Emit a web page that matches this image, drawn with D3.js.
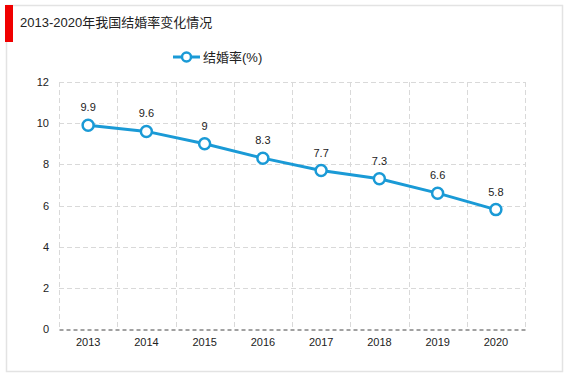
<!DOCTYPE html>
<html><head><meta charset="utf-8">
<script src="https://cdn.jsdelivr.net/npm/d3@7"></script>
<style>body{margin:0;background:#fff;}svg{display:block;font-family:"Liberation Sans",Arial,"Noto Sans CJK SC",sans-serif;}</style>
</head><body><svg id="c" width="567" height="378"></svg>
<script>
const years = ["2013","2014","2015","2016","2017","2018","2019","2020"];
const rates = [9.9, 9.6, 9, 8.3, 7.7, 7.3, 6.6, 5.8];
const rateLabels = ["9.9","9.6","9","8.3","7.7","7.3","6.6","5.8"];
const yTicks = [0,2,4,6,8,10,12];
const title = "2013-2020年我国结婚率变化情况";
const seriesName = "结婚率(%)";

const svg = d3.select("#c");
const color = "#1a9ad6";
// frame
svg.append("rect").attr("x",6.5).attr("y",5.5).attr("width",556).attr("height",366)
  .attr("fill","#fff").attr("stroke","#e3e3e3").attr("stroke-width",1.5);
svg.append("rect").attr("x",5).attr("y",5).attr("width",8).attr("height",37).attr("fill","#f00000");
svg.append("text").attr("x",20).attr("y",27).attr("font-size",13).attr("fill","#222").text(title);

const m = {l:59, r:525, t:82, b:329};
const x = d3.scaleBand().domain(years).range([m.l, m.r]);
const y = d3.scaleLinear().domain([0,12]).range([m.b, m.t]);

// grid
const g = svg.append("g");
g.selectAll(".hg").data(yTicks.filter(d=>d>0)).join("line")
  .attr("x1",m.l).attr("x2",m.r).attr("y1",d=>Math.round(y(d))+0.5).attr("y2",d=>Math.round(y(d))+0.5)
  .attr("stroke","#d9d9d9").attr("stroke-dasharray","5,3");
const vx = years.map(d=>x(d)).concat([m.r]);
g.selectAll(".vg").data(vx).join("line")
  .attr("x1",d=>Math.round(d)+0.5).attr("x2",d=>Math.round(d)+0.5).attr("y1",m.t).attr("y2",m.b)
  .attr("stroke","#d9d9d9").attr("stroke-dasharray","5,3");

// y axis labels
const yAxis = d3.axisLeft(y).tickValues(yTicks).tickSize(0).tickPadding(10);
const ya = svg.append("g").attr("transform",`translate(${m.l},0)`).call(yAxis);
ya.select(".domain").remove();
ya.selectAll("text").attr("font-size",11).attr("fill","#222").attr("font-family","Liberation Sans, Arial");

// x axis
const xAxis = d3.axisBottom(x).tickSize(0).tickPadding(9);
const xa = svg.append("g").attr("transform",`translate(0,${m.b+0.5})`).call(xAxis);
xa.select(".domain").attr("stroke","#444").attr("stroke-dasharray","4,3");
xa.selectAll("text").attr("font-size",11).attr("fill","#222").attr("font-family","Liberation Sans, Arial");

// line
const pts = years.map((d,i)=>({yr:d, v:rates[i], lab:rateLabels[i]}));
const line = d3.line().x(d=>x(d.yr)+x.bandwidth()/2).y(d=>y(d.v));
svg.append("path").datum(pts).attr("d",line).attr("fill","none").attr("stroke",color).attr("stroke-width",3);
svg.selectAll(".pt").data(pts).join("circle")
  .attr("cx",d=>x(d.yr)+x.bandwidth()/2).attr("cy",d=>y(d.v)).attr("r",5.5)
  .attr("fill","#fff").attr("stroke",color).attr("stroke-width",2.5);
svg.selectAll(".lb").data(pts).join("text")
  .attr("x",d=>x(d.yr)+x.bandwidth()/2).attr("y",d=>y(d.v)-14)
  .attr("text-anchor","middle").attr("font-size",11).attr("fill","#222").text(d=>d.lab);

// legend
const lg = svg.append("g");
lg.append("line").attr("x1",173).attr("x2",200).attr("y1",57).attr("y2",57).attr("stroke",color).attr("stroke-width",3);
lg.append("circle").attr("cx",186.5).attr("cy",57).attr("r",4.5).attr("fill","#fff").attr("stroke",color).attr("stroke-width",2.5);
lg.append("text").attr("x",203).attr("y",62).attr("font-size",13).attr("fill","#222").text(seriesName);
</script></body></html>
